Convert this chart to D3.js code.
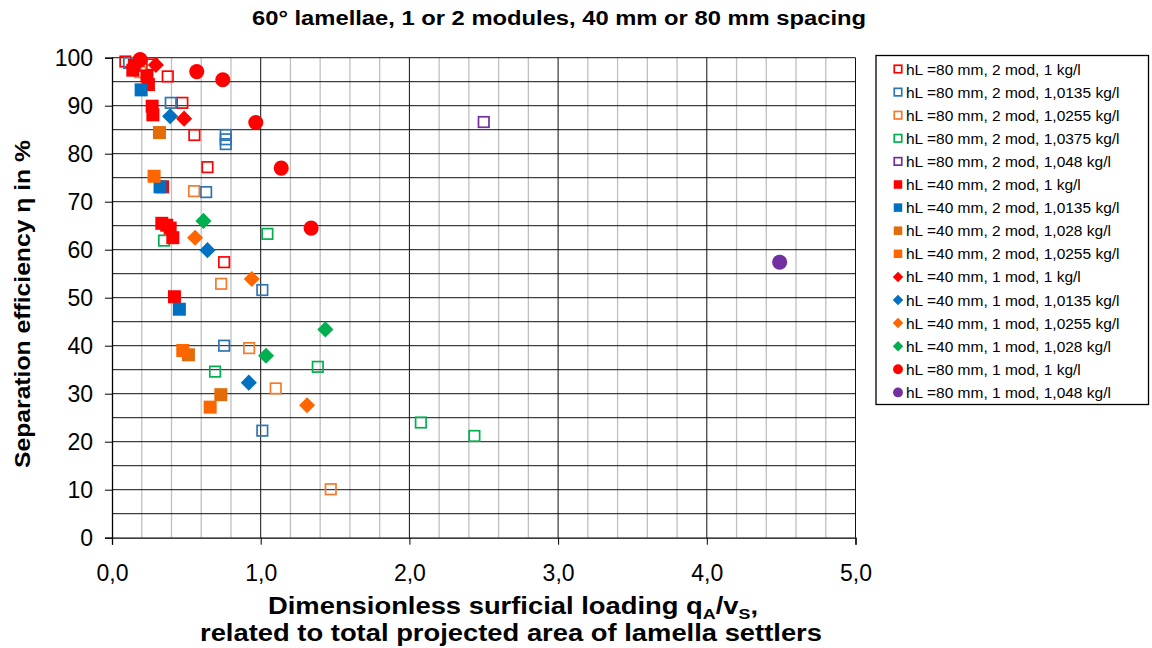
<!DOCTYPE html>
<html><head><meta charset="utf-8">
<script src="https://cdn.jsdelivr.net/npm/d3@7"></script>
<style>body{margin:0;background:#fff}svg{display:block;font-family:"Liberation Sans",Arial,sans-serif}</style>
</head><body><svg id="c" width="1152" height="648"></svg>
<script>
const seriesNames = [
 "hL =80 mm, 2 mod, 1 kg/l","hL =80 mm, 2 mod, 1,0135 kg/l","hL =80 mm, 2 mod, 1,0255 kg/l",
 "hL =80 mm, 2 mod, 1,0375 kg/l","hL =80 mm, 2 mod, 1,048 kg/l","hL =40 mm, 2 mod, 1 kg/l",
 "hL =40 mm, 2 mod, 1,0135 kg/l","hL =40 mm, 2 mod, 1,028 kg/l","hL =40 mm, 2 mod, 1,0255 kg/l",
 "hL =40 mm, 1 mod, 1 kg/l","hL =40 mm, 1 mod, 1,0135 kg/l","hL =40 mm, 1 mod, 1,0255 kg/l",
 "hL =40 mm, 1 mod, 1,028 kg/l","hL =80 mm, 1 mod, 1 kg/l","hL =80 mm, 1 mod, 1,048 kg/l"];
const seriesShapes = ["open","open","open","open","open","square","square","square","square",
 "diamond","diamond","diamond","diamond","circle","circle"];
const seriesColors = ["#FF0000","#2E75B6","#F7792B","#00B050","#7030A0","#FF0000","#0070C0","#E36C09","#FF6600",
 "#FF0000","#0070C0","#FF6600","#00B050","#FF0000","#7030A0"];
const s1x=[0.09,0.27,0.375,0.473,0.554,0.642,0.754], s1y=[99.2,98.6,96.1,90.6,83.9,77.2,57.4];
const s2x=[0.115,0.395,0.765,0.765,0.765,0.633,1.011,0.754,1.011], s2y=[98.9,90.6,83.9,83.0,82.0,72.0,51.6,40.0,22.3];
const s3x=[0.19,0.552,0.734,0.922,1.101,1.471], s3y=[97.0,72.2,52.9,39.5,31.1,10.1];
const s4x=[0.35,0.693,1.045,1.384,2.077,2.437], s4y=[61.9,34.6,63.3,35.6,24.0,21.2];
const s5x=[2.50], s5y=[86.6];
const s6x=[0.14,0.15,0.235,0.245,0.27,0.275,0.34,0.335,0.368,0.391,0.409,0.42], s6y=[97.4,98.4,96.2,94.4,89.9,88.1,73.1,65.5,65.1,64.5,62.5,50.2];
const s7x=[0.196,0.323,0.453], s7y=[93.3,73.1,47.6];
const s8x=[0.319,0.514,0.732], s8y=[84.4,38.1,29.8];
const s9x=[0.283,0.476,0.66], s9y=[75.3,39.0,27.2];
const s10x=[0.295,0.485], s10y=[98.5,87.3];
const s11x=[0.391,0.642,0.92], s11y=[87.8,59.9,32.3];
const s12x=[0.559,0.94,1.312], s12y=[62.5,53.9,27.6];
const s13x=[0.615,1.036,1.435], s13y=[66.0,37.9,43.4];
const s14x=[0.189,0.57,0.745,0.967,1.138,1.339], s14y=[99.6,97.1,95.4,86.5,77.0,64.5];
const s15x=[4.49], s15y=[57.4];
const allX=[s1x,s2x,s3x,s4x,s5x,s6x,s7x,s8x,s9x,s10x,s11x,s12x,s13x,s14x,s15x];
const allY=[s1y,s2y,s3y,s4y,s5y,s6y,s7y,s8y,s9y,s10y,s11y,s12y,s13y,s14y,s15y];
const xTicks=[0,1,2,3,4,5], yTicks=[0,10,20,30,40,50,60,70,80,90,100];
const title="60° lamellae, 1 or 2 modules, 40 mm or 80 mm spacing";

const svg=d3.select("#c");
const L=112,R=855.5,T=57.7,B=537.7;
const x=d3.scaleLinear().domain([0,5]).range([L,R]);
const y=d3.scaleLinear().domain([0,100]).range([B,T]);

const g=svg.append("g");
g.selectAll("line.vm").data(d3.range(1,25).map(i=>i*0.2).filter(v=>Math.abs(v-Math.round(v))>1e-6))
 .enter().append("line").attr("x1",d=>x(d)).attr("x2",d=>x(d)).attr("y1",T).attr("y2",B)
 .attr("stroke","#c0c0c0").attr("stroke-width",1.3);
g.selectAll("line.h").data(d3.range(5,101,5)).enter().append("line")
 .attr("x1",L).attr("x2",R).attr("y1",d=>y(d)).attr("y2",d=>y(d)).attr("stroke","#111").attr("stroke-width",1);
g.selectAll("line.vM").data([1,2,3,4,5]).enter().append("line")
 .attr("x1",d=>x(d)).attr("x2",d=>x(d)).attr("y1",T).attr("y2",B).attr("stroke","#111").attr("stroke-width",1);

const fmtX=d=>d3.format(".1f")(d).replace(".",",");
const ax=svg.append("g").attr("transform",`translate(0,${B})`).call(d3.axisBottom(x).tickValues(xTicks).tickSize(7).tickPadding(20).tickFormat(fmtX));
const ay=svg.append("g").attr("transform",`translate(${L},0)`).call(d3.axisLeft(y).tickValues(yTicks).tickSize(7).tickPadding(12));
[ax,ay].forEach(a=>{a.selectAll("path").attr("stroke","#000").attr("stroke-width",1.3);
 a.selectAll("line").attr("stroke","#000");
 a.selectAll("text").attr("font-size","23px").attr("fill","#000").attr("font-family","'Liberation Sans',Arial,sans-serif");});

function drawMarker(sel,shape,color,size){
 if(shape==="open"){sel.append("rect").attr("x",-size/2).attr("y",-size/2).attr("width",size).attr("height",size)
   .attr("fill","none").attr("stroke",color).attr("stroke-width",1.7);}
 else if(shape==="square"){sel.append("rect").attr("x",-size/2).attr("y",-size/2).attr("width",size).attr("height",size).attr("fill",color);}
 else if(shape==="diamond"){const h=size*0.62;sel.append("path").attr("d",`M0,${-h}L${h},0L0,${h}L${-h},0Z`).attr("fill",color);}
 else {sel.append("circle").attr("r",size*0.58).attr("fill",color);}
}
const sizes={open:10.5,square:13,diamond:13,circle:13};
allX.forEach((xs,si)=>{
 const pts=xs.map((v,i)=>({x:v,y:allY[si][i]}));
 svg.append("g").selectAll("g").data(pts).enter().append("g")
  .attr("transform",d=>`translate(${x(d.x)},${y(d.y)})`)
  .each(function(){drawMarker(d3.select(this),seriesShapes[si],seriesColors[si],sizes[seriesShapes[si]]);});
});

svg.append("text").attr("x",559).attr("y",25).attr("text-anchor","middle").attr("font-weight","bold")
 .attr("font-size","20px").attr("textLength",614).attr("lengthAdjust","spacingAndGlyphs").text(title);
svg.append("text").attr("transform","translate(30,304) rotate(-90)").attr("text-anchor","middle")
 .attr("font-weight","bold").attr("font-size","22px").attr("textLength",328).attr("lengthAdjust","spacingAndGlyphs")
 .text("Separation efficiency η in %");
const xl=svg.append("text").attr("x",513).attr("y",614).attr("text-anchor","middle").attr("font-weight","bold").attr("font-size","23px")
 .attr("textLength",490).attr("lengthAdjust","spacingAndGlyphs");
xl.append("tspan").text("Dimensionless surficial loading q");
xl.append("tspan").attr("font-size","15px").attr("dy",5).text("A");
xl.append("tspan").attr("dy",-5).text("/v");
xl.append("tspan").attr("font-size","15px").attr("dy",5).text("S");
xl.append("tspan").attr("dy",-5).text(",");
svg.append("text").attr("x",511).attr("y",641).attr("text-anchor","middle").attr("font-weight","bold").attr("font-size","23px")
 .attr("textLength",622).attr("lengthAdjust","spacingAndGlyphs")
 .text("related to total projected area of lamella settlers");

const lg=svg.append("g");
lg.append("rect").attr("x",876).attr("y",55.5).attr("width",272.5).attr("height",349).attr("fill","#fff").attr("stroke","#000").attr("stroke-width",1.3);
seriesNames.forEach((n,i)=>{
 const yy=69+i*23.1;
 const m=lg.append("g").attr("transform",`translate(898,${yy})`);
 drawMarker(m,seriesShapes[i],seriesColors[i],seriesShapes[i]==="open"?7.5:8.5);
 lg.append("text").attr("x",906).attr("y",yy+5.5).attr("font-size","15.5px").text(n);
});
</script></body></html>
